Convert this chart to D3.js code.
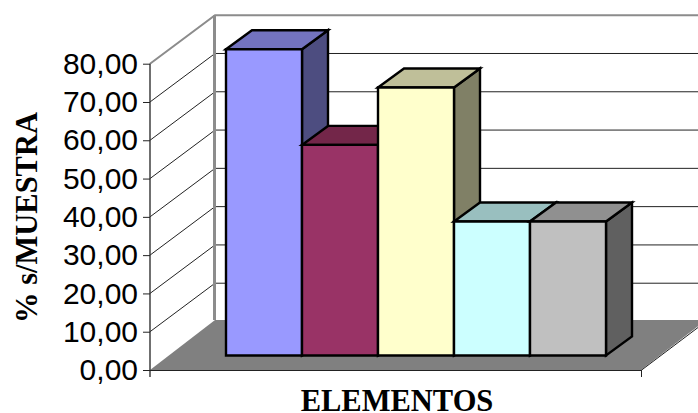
<!DOCTYPE html>
<html>
<head>
<meta charset="utf-8">
<script src="https://cdn.jsdelivr.net/npm/d3@7"></script>
<style>html,body{margin:0;padding:0;background:#fff}svg{display:block}</style>
</head>
<body>
<svg id="chart" width="698" height="413"></svg>
<script>
const categories = ["A", "B", "C", "D", "E"];
const seriesValues = [80, 55, 70, 35, 35];
const tickValues = [0, 10, 20, 30, 40, 50, 60, 70, 80];
const frontColors = ["#9999ff", "#993366", "#ffffcc", "#ccffff", "#c0c0c0"];
const topColors = ["#7373bf", "#732649", "#bfbf99", "#99bfbf", "#909090"];
const sideColors = ["#4d4d80", "#4d1a33", "#808066", "#668080", "#606060"];

const svg = d3.select("#chart");
const width = 698;

// Oblique projection: the wall plane sits up and to the right of the front plane.
const wallDx = 65, wallDy = -48.5;
const barDx = 26, barDy = -19;
const floorBackDy = -50;
const barBaseY = 355.5;

const y = d3.scaleLinear().domain([0, 80]).range([370, 63.7]);
const x = d3.scaleBand().domain(categories).range([226, 606]).padding(0);
const axisLeft = 150, axisRight = 641;
const fmt = v => d3.format(".2f")(v).replace(".", ",");
const path = pts => d3.line()(pts) + "Z";

// Floor
svg.append("path")
  .attr("d", path([[axisLeft, y(0)], [axisLeft + wallDx, y(0) + floorBackDy], [axisRight + wallDx, y(0) + floorBackDy], [axisRight, y(0)]]))
  .attr("fill", "#808080");

// Gridlines on the side and back walls
const grid = svg.append("g").attr("fill", "none").attr("stroke", "#222").attr("stroke-width", 1);
tickValues.slice(1, -1).forEach(v => {
  grid.append("path").attr("d", d3.line()([[axisLeft, y(v)], [axisLeft + wallDx, y(v) + wallDy], [width, y(v) + wallDy]]));
});

// Wall outlines
const walls = svg.append("g").attr("fill", "none").attr("stroke", "#8c8c8c");
walls.append("path").attr("stroke-width", 2)
  .attr("d", d3.line()([[axisLeft, y(80)], [axisLeft + wallDx, y(80) + wallDy], [width, y(80) + wallDy]]));
walls.append("path").attr("stroke-width", 3)
  .attr("d", d3.line()([[axisLeft + wallDx - 0.5, y(80) + wallDy], [axisLeft + wallDx - 0.5, y(0) + floorBackDy]]));

// Bars, front face plus top and right side
const barH = v => y(0) - y(v);
const bars = svg.append("g").attr("stroke", "#000").attr("stroke-width", 2.4).attr("stroke-linejoin", "miter");
categories.forEach((c, i) => {
  const x0 = x(c), x1 = x0 + x.bandwidth(), t = barBaseY - barH(seriesValues[i]);
  const g = bars.append("g");
  g.append("path").attr("fill", sideColors[i])
    .attr("d", path([[x1, t], [x1 + barDx, t + barDy], [x1 + barDx, barBaseY + barDy], [x1, barBaseY]]));
  g.append("path").attr("fill", topColors[i])
    .attr("d", path([[x0, t], [x0 + barDx, t + barDy], [x1 + barDx, t + barDy], [x1, t]]));
  g.append("path").attr("fill", frontColors[i])
    .attr("d", path([[x0, t], [x1, t], [x1, barBaseY], [x0, barBaseY]]));
});

// Value axis
const axisY = svg.append("g").attr("transform", `translate(${axisLeft},0)`)
  .call(d3.axisLeft(y).tickValues(tickValues).tickFormat(fmt).tickSize(7).tickPadding(5));
axisY.select(".domain").attr("stroke", "#333").attr("stroke-width", 1.4).attr("d", `M0,${y(80)}V${y(0) + 7}`);
axisY.selectAll(".tick line").attr("stroke", "#222");
axisY.selectAll("text")
  .attr("font-family", "'Liberation Sans', Arial, sans-serif")
  .attr("font-size", 30).attr("fill", "#000");

// Floor front edge with its end ticks
const front = svg.append("g").attr("stroke", "#222").attr("fill", "none");
front.append("path").attr("d", d3.line()([[axisLeft, y(0) + 0.5], [axisRight, y(0) + 0.5], [axisRight + wallDx, y(0) + wallDy]]));
front.append("path").attr("d", d3.line()([[axisRight + 0.5, y(0)], [axisRight + 0.5, y(0) + 7]]));

// Axis titles
const titleFont = "'Liberation Serif', 'Times New Roman', serif";
svg.append("text").attr("x", 397).attr("y", 411).attr("text-anchor", "middle")
  .attr("font-family", titleFont).attr("font-weight", "bold").attr("font-size", 30.5).text("ELEMENTOS");
svg.append("text").attr("transform", "translate(36.5,217.5) rotate(-90)").attr("text-anchor", "middle")
  .attr("font-family", titleFont).attr("font-weight", "bold").attr("font-size", 30.5).text("% s/MUESTRA");
</script>
</body>
</html>
